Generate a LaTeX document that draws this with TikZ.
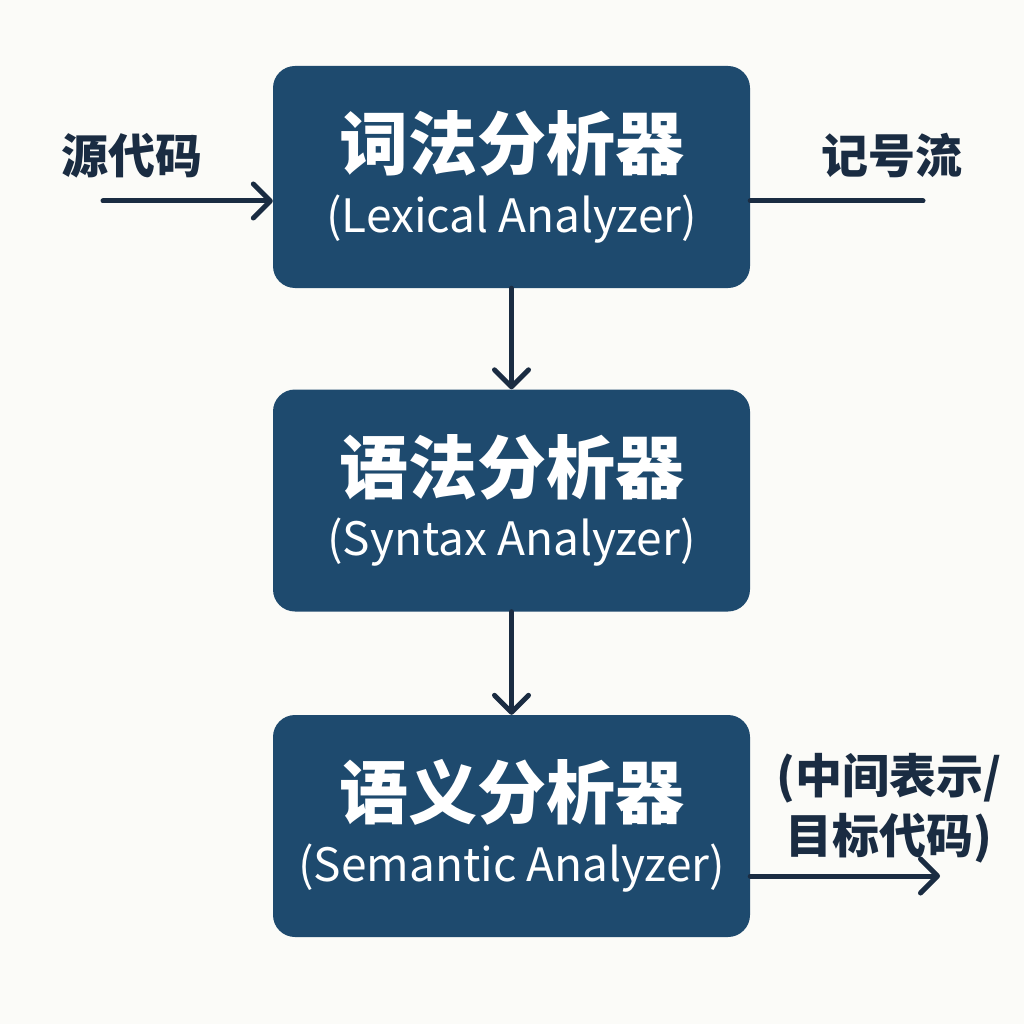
\documentclass[tikz,border=0pt]{standalone}
\usepackage{fontspec}
\setmainfont{Noto Sans CJK SC}
\usetikzlibrary{arrows.meta}
\definecolor{boxblue}{HTML}{1E4A6E}
\definecolor{inkblue}{HTML}{1A2C42}
\definecolor{paper}{HTML}{FBFBF8}
\newcommand{\zh}[1]{{\fontsize{69}{74}\selectfont\bfseries #1}}
\newcommand{\en}[1]{{\fontsize{46}{52}\selectfont #1}}

\begin{document}
\begin{tikzpicture}[x=1pt,y=-1pt,
  stage/.style={draw=none,fill=boxblue,text=white,rounded corners=22pt,
    minimum width=477pt,minimum height=222pt,align=center,inner sep=0pt},
  flow/.style={draw=inkblue,line width=5pt,line cap=round,
    -{Straight Barb[length=17pt,width=34pt,line width=5pt,round]}},
  side/.style={text=inkblue,align=center,inner sep=0pt,
    font=\fontsize{47}{60}\selectfont\bfseries}]
 \fill[paper] (0,0) rectangle (1024,1024);
 \useasboundingbox (0,0) rectangle (1024,1024);
 % stages
 \node[stage] (lex) at (511.5,177)   {\zh{词法分析器}\\[17pt]\en{(Lexical Analyzer)}};
 \node[stage] (syn) at (511.5,500.5) {\zh{语法分析器}\\[17pt]\en{(Syntax Analyzer)}};
 \node[stage] (sem) at (511.5,826)   {\zh{语义分析器}\\[17pt]\en{(Semantic Analyzer)}};
 % side labels
 \node[side] (src) at (132,156) {源代码};
 \node[side] (tok) at (892,156) {记号流};
 \node[side] (ir)  at (889,808) {(中间表示/\\目标代码)};
 \coordinate (in)  at (103,201);
 \coordinate (out) at (923,201);
 \coordinate (tip) at (940,876);
 \draw[flow] (in) -- (lex.west |- in);
 \draw[flow] (lex) -- (syn);
 \draw[flow] (syn) -- (sem);
 \draw[flow] (sem.east |- tip) -- (tip);
 \draw[inkblue,line width=5pt,line cap=round] (lex.east |- out) -- (out);
\end{tikzpicture}
\end{document}
